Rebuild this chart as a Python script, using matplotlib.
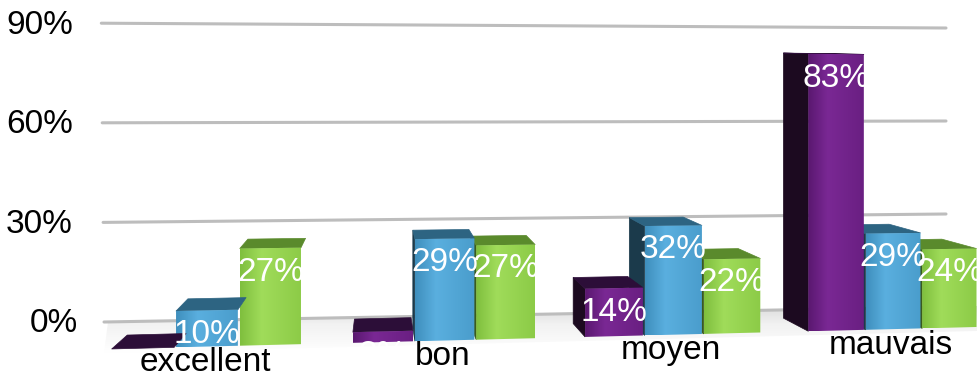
import numpy as np
import matplotlib
matplotlib.use('Agg')
import matplotlib.pyplot as plt
from matplotlib.patches import Polygon
from matplotlib.colors import to_rgb

# Survey results (%), one list per series
categories = ['excellent', 'bon', 'moyen', 'mauvais']
serie_violet = [0, 3, 14, 83]
serie_bleu = [10, 29, 32, 29]
serie_vert = [27, 27, 22, 24]
tick_values = [0, 30, 60, 90]

series = [serie_violet, serie_bleu, serie_vert]

# face colours: (front gradient left/mid/right, top, side)
palette = [
    (['#5a1870', '#7a2894', '#6a1f82'], '#2c0e38', '#1c0a20'),
    (['#3f8fbd', '#5aafdf', '#4a9dcc'], '#2d6482', '#1b3a4b'),
    (['#7fbf3e', '#a0dc5a', '#8ccb47'], '#5a8a2c', '#3a5a1e'),
]

FONT = ['Liberation Sans', 'DejaVu Sans']
FS = 24
W, H = 977, 379

fig = plt.figure(figsize=(W / 100, H / 100), dpi=100)
ax = fig.add_axes([0, 0, 1, 1])
ax.axis('off')


# --- pseudo-perspective helpers (screen pixels, y grows downward) ---
def slot_x(p):
    return 111.7 + 64.65 * p - 0.311 * p ** 2


def floor_y(x):
    return 349.0 - (x - 110.0) * 0.0254


def px_per_pct(x):
    return 3.6 - (x - 240.0) * 0.00045


def depth_dx(x):
    return (380.0 - x) * 0.058


def depth_dy(y):
    return -(y - 40.0) * 0.045


def wall_y(v, side):
    return 322 - v * 3.32 if side == 0 else 307 - v * 3.1


def fill_gradient(pts, colors, stops, zorder, axis='x', alpha=1.0):
    pts = np.asarray(pts, dtype=float)
    x0, x1 = pts[:, 0].min(), pts[:, 0].max()
    y0, y1 = pts[:, 1].min(), pts[:, 1].max()
    t = np.linspace(0, 1, 64)
    rgb = np.array([np.interp(t, stops, [to_rgb(c)[k] for c in colors])
                    for k in range(3)]).T
    img = rgb[np.newaxis, :, :] if axis == 'x' else rgb[:, np.newaxis, :]
    clip = Polygon(pts, closed=True, facecolor='none', edgecolor='none')
    ax.add_patch(clip)
    im = ax.imshow(img, extent=(x0, x1, y1, y0), aspect='auto',
                   interpolation='bilinear', zorder=zorder, alpha=alpha)
    im.set_clip_path(clip)


# soft floor shading just in front of the wall
floor = [(108, wall_y(0, 0)), (977, wall_y(0, 1) - 1),
         (977, floor_y(977) + 4), (104, floor_y(104) + 4)]
fill_gradient(floor, ['#dadada', '#f2f2f2', '#ffffff'], [0, 0.4, 1], 0.5,
              axis='y')

# wall gridlines and y tick labels
for v in tick_values:
    ax.plot([104 - v * 0.03, 946], [wall_y(v, 0), wall_y(v, 1)],
            color='#bdbdbd', lw=2.2, solid_capstyle='round', zorder=1)
    ax.text(78 if v == 0 else 73, wall_y(v, 0) + 2, f'{v}%', ha='right',
            va='center', fontsize=FS, family=FONT, color='black', zorder=1)

z = 2.0
labels = []
for i, cat in enumerate(categories):
    # right to left so each bar hides the side face of its right neighbour
    for j in reversed(range(len(series))):
        v = series[j][i]
        p = j + 3.8 * i
        xl, xr = slot_x(p), slot_x(p + 0.97)
        ybl, ybr = floor_y(xl), floor_y(xr)
        ytl = ybl - v * px_per_pct(xl)
        ytr = ybr - v * px_per_pct(xr)
        front_cols, top_col, side_col = palette[j]

        # left side face, only seen on bars right of the eye point
        if depth_dx(xl) < 0:
            side = [(xl, ybl), (xl, ytl),
                    (xl + depth_dx(xl), ytl + depth_dy(ytl)),
                    (xl + depth_dx(xl), ybl + depth_dy(ybl))]
            ax.add_patch(Polygon(side, closed=True, facecolor=side_col,
                                 edgecolor=side_col, lw=0.5, zorder=z))
        # top face
        top = [(xl, ytl), (xr, ytr),
               (xr + depth_dx(xr), ytr + depth_dy(ytr)),
               (xl + depth_dx(xl), ytl + depth_dy(ytl))]
        ax.add_patch(Polygon(top, closed=True, facecolor=top_col,
                             edgecolor=top_col, lw=0.5, joinstyle='round',
                             zorder=z + 0.1))
        # front face
        if v > 0:
            front = [(xl, ybl), (xl, ytl), (xr, ytr), (xr, ybr)]
            fill_gradient(front, front_cols, [0, 0.35, 1], z + 0.2)
        z += 1

        labels.append(((xl + xr) / 2, (ytl + ytr) / 2 + 24, f'{v}%'))

    # category label centred under the middle bar
    xm = (slot_x(1 + 3.8 * i) + slot_x(1.97 + 3.8 * i)) / 2
    ax.text(xm - 2, floor_y(xm) + 16, cat, ha='center', va='center',
            fontsize=FS, family=FONT, color='black', zorder=70)

for x, y, s in labels:
    ax.text(x, y, s, ha='center', va='center', fontsize=FS, family=FONT,
            color='white', zorder=60)

ax.set_xlim(0, W)
ax.set_ylim(H, 0)

fig.savefig('out.png', dpi=100, facecolor='white')
